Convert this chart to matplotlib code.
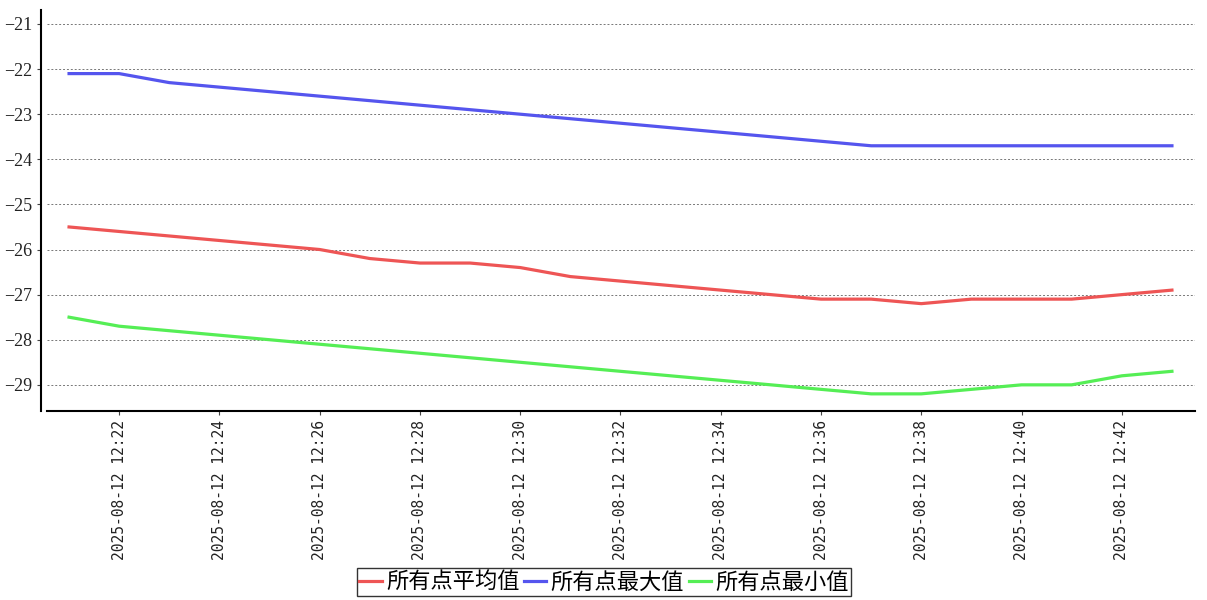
import numpy as np
import pandas as pd
import matplotlib
matplotlib.use('Agg')
import matplotlib.pyplot as plt
import matplotlib.dates as mdates

plt.rcParams['font.family'] = ['Noto Sans CJK SC', 'DejaVu Sans']

# minute timestamps 12:21 .. 12:43
times = pd.to_datetime([
    '2025-08-12 12:21', '2025-08-12 12:22', '2025-08-12 12:23', '2025-08-12 12:24',
    '2025-08-12 12:25', '2025-08-12 12:26', '2025-08-12 12:27', '2025-08-12 12:28',
    '2025-08-12 12:29', '2025-08-12 12:30', '2025-08-12 12:31', '2025-08-12 12:32',
    '2025-08-12 12:33', '2025-08-12 12:34', '2025-08-12 12:35', '2025-08-12 12:36',
    '2025-08-12 12:37', '2025-08-12 12:38', '2025-08-12 12:39', '2025-08-12 12:40',
    '2025-08-12 12:41', '2025-08-12 12:42', '2025-08-12 12:43'])

avg_vals = [-25.5, -25.6, -25.7, -25.8, -25.9, -26.0, -26.2, -26.3, -26.3, -26.4,
            -26.6, -26.7, -26.8, -26.9, -27.0, -27.1, -27.1, -27.2, -27.1, -27.1,
            -27.1, -27.0, -26.9]
max_vals = [-22.1, -22.1, -22.3, -22.4, -22.5, -22.6, -22.7, -22.8, -22.9, -23.0,
            -23.1, -23.2, -23.3, -23.4, -23.5, -23.6, -23.7, -23.7, -23.7, -23.7,
            -23.7, -23.7, -23.7]
min_vals = [-27.5, -27.7, -27.8, -27.9, -28.0, -28.1, -28.2, -28.3, -28.4, -28.5,
            -28.6, -28.7, -28.8, -28.9, -29.0, -29.1, -29.2, -29.2, -29.1, -29.0,
            -29.0, -28.8, -28.7]
labels = ['所有点平均值', '所有点最大值', '所有点最小值']
colors = ['#ee5555', '#5555ee', '#55ee55']

fig = plt.figure(figsize=(12.07, 6.0), dpi=100)
ax = fig.add_axes([47 / 1207, 1 - 411 / 600, (1195 - 47) / 1207, (411 - 10) / 600])

for vals, lab, col in zip([avg_vals, max_vals, min_vals], labels, colors):
    ax.plot(times, vals, color=col, lw=2.3, label=lab)

one_min = pd.Timedelta(minutes=1)
ax.set_xlim(times[0] - 0.44 * one_min, times[-1] + 0.46 * one_min)
ax.set_ylim(-29.58, -20.69)
ax.set_yticks(np.arange(-29, -20, 1))
ax.yaxis.grid(True, linestyle=(0, (2, 2)), color='#777777', lw=0.7)
ax.set_axisbelow(True)

ax.xaxis.set_major_locator(mdates.MinuteLocator(byminute=range(0, 60, 2)))
ax.xaxis.set_major_formatter(mdates.DateFormatter('%Y-%m-%d %H:%M'))
ax.tick_params(axis='x', labelrotation=90, labelsize=10.5,
               labelfontfamily='DejaVu Sans Mono', labelcolor='#222222')
ax.tick_params(axis='y', labelsize=13, labelfontfamily='Liberation Serif',
               labelcolor='#222222')
ax.tick_params(axis='both', length=3, width=0.8, color='#444444')

ax.spines['top'].set_visible(False)
ax.spines['right'].set_visible(False)
ax.spines['left'].set_position(('outward', 4))
ax.spines['left'].set_linewidth(1.5)
ax.spines['bottom'].set_linewidth(1.5)

leg = fig.legend(loc='center', bbox_to_anchor=(604 / 1207, 1 - 582 / 600), ncol=3,
                 prop={'family': 'Noto Sans CJK SC', 'size': 16},
                 handlelength=1.0, handletextpad=0.2, columnspacing=0.2,
                 borderpad=0.1, frameon=True, fancybox=False)
leg.get_frame().set_edgecolor('black')
leg.get_frame().set_linewidth(1.0)

fig.savefig('out.png', dpi=100)
